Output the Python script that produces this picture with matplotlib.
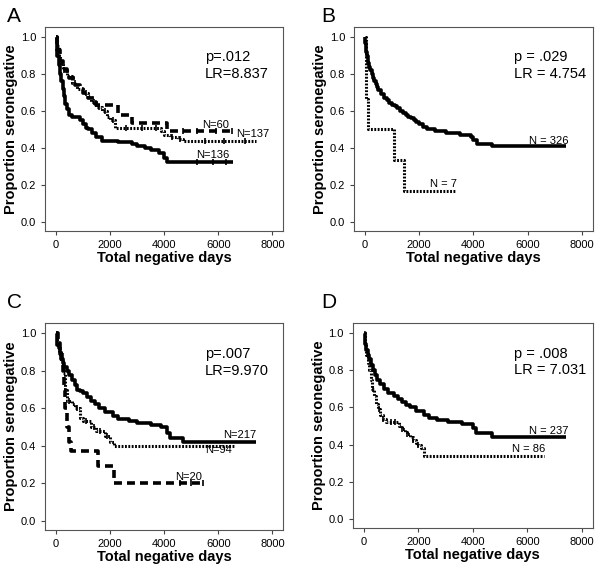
import numpy as np
import matplotlib.pyplot as plt

plt.rcParams['font.family'] = ['Liberation Sans', 'DejaVu Sans']

# ---- data: step times (days) and survival after each step ----
# Panel A
a_solid_t = [0, 30, 60, 100, 150, 200, 250, 300, 350, 420, 500, 600, 900, 1000, 1100, 1200, 1350, 1500, 1700, 2300, 2800, 3000, 3300, 3500, 3800, 4000, 4100]
a_solid_s = [1.0, 0.95, 0.90, 0.85, 0.80, 0.76, 0.72, 0.68, 0.64, 0.61, 0.58, 0.57, 0.55, 0.53, 0.51, 0.50, 0.48, 0.46, 0.44, 0.43, 0.42, 0.41, 0.40, 0.39, 0.37, 0.345, 0.325]
a_solid_end = 6550
a_solid_cens = [5200, 5800, 6300]

a_dot_t = [0, 50, 100, 150, 250, 400, 600, 800, 1000, 1200, 1300, 1500, 1700, 1900, 2000, 2200, 3900, 4000, 4200, 4500, 4700]
a_dot_s = [1.0, 0.95, 0.90, 0.86, 0.82, 0.79, 0.75, 0.72, 0.70, 0.68, 0.65, 0.62, 0.60, 0.57, 0.55, 0.51, 0.49, 0.47, 0.46, 0.45, 0.435]
a_dot_end = 7400
a_dot_cens = [300, 700, 1100, 1400, 1600, 1800, 2100, 2600, 3200, 3700, 4300, 4600, 5500, 6200, 7000]

a_dash_t = [0, 60, 150, 250, 400, 500, 700, 900, 1000, 1200, 1400, 1500, 2300, 2800, 4100]
a_dash_s = [1.0, 0.93, 0.87, 0.83, 0.80, 0.78, 0.74, 0.72, 0.70, 0.67, 0.65, 0.63, 0.58, 0.535, 0.49]
a_dash_end = 6600
a_dash_cens = [4700, 5200, 5900, 6500]

# Panel B
b_solid_t = [0, 20, 40, 60, 80, 100, 130, 160, 200, 250, 300, 350, 400, 450, 500, 600, 700, 800, 900, 1000, 1100, 1200, 1300, 1400, 1500,
             1600, 1700, 1800, 1900, 2000, 2150, 2300, 2600, 3000, 3500, 3900, 4000, 4150, 4700]
b_solid_s = [1.0, 0.97, 0.94, 0.92, 0.90, 0.88, 0.86, 0.84, 0.82, 0.80, 0.78, 0.76, 0.745, 0.73, 0.715, 0.69, 0.67, 0.66, 0.645, 0.635, 0.625, 0.615, 0.60, 0.59, 0.58,
             0.57, 0.56, 0.55, 0.54, 0.53, 0.515, 0.50, 0.49, 0.48, 0.47, 0.46, 0.445, 0.42, 0.41]
b_solid_end = 7400
b_solid_cens = []

b_dot_t = [0, 30, 60, 100, 1060, 1440]
b_dot_s = [1.0, 0.833, 0.667, 0.50, 0.333, 0.167]
b_dot_end = 3350
b_dot_cens = []

# Panel C
c_solid_t = [0, 30, 60, 100, 150, 200, 250, 320, 400, 500, 600, 700, 800, 900, 1000, 1150, 1300, 1450, 1600, 1800, 2100, 2300, 2700, 3000, 3500, 3900, 4100, 4200, 4700]
c_solid_s = [1.0, 0.97, 0.94, 0.92, 0.89, 0.865, 0.84, 0.82, 0.80, 0.775, 0.75, 0.725, 0.70, 0.69, 0.68, 0.66, 0.64, 0.62, 0.60, 0.58, 0.56, 0.54, 0.53, 0.52, 0.51, 0.50, 0.47, 0.44, 0.42]
c_solid_end = 7400
c_solid_cens = []

c_dot_t = [0, 50, 100, 180, 250, 350, 400, 600, 700, 900, 1000, 1300, 1500, 1800, 2000, 2150]
c_dot_s = [1.0, 0.95, 0.90, 0.85, 0.79, 0.70, 0.64, 0.62, 0.60, 0.55, 0.53, 0.50, 0.48, 0.45, 0.42, 0.40]
c_dot_end = 6600
c_dot_cens = [500, 800, 1100, 1400, 1650, 1900]

c_dash_t = [0, 80, 150, 220, 270, 300, 350, 420, 470, 560, 1560, 2150]
c_dash_s = [1.0, 0.95, 0.90, 0.85, 0.80, 0.70, 0.60, 0.50, 0.42, 0.37, 0.29, 0.20]
c_dash_end = 5500
c_dash_cens = [4600, 5000, 5450]

# Panel D
d_solid_t = [0, 30, 60, 100, 150, 200, 270, 350, 420, 500, 600, 750, 900, 1100, 1250, 1400, 1550, 1700, 1900, 2200, 2400, 2700, 3100, 3600, 4000, 4100, 4700]
d_solid_s = [1.0, 0.97, 0.94, 0.91, 0.885, 0.86, 0.83, 0.80, 0.775, 0.75, 0.725, 0.70, 0.68, 0.66, 0.645, 0.63, 0.615, 0.60, 0.58, 0.56, 0.545, 0.53, 0.52, 0.51, 0.49, 0.46, 0.44]
d_solid_end = 7400
d_solid_cens = []

d_dot_t = [0, 50, 100, 150, 200, 250, 300, 370, 450, 520, 600, 700, 800, 1300, 1400, 1500, 1600, 1700, 1800, 1900, 2000, 2100, 2200]
d_dot_s = [1.0, 0.94, 0.88, 0.84, 0.80, 0.75, 0.70, 0.66, 0.62, 0.59, 0.56, 0.54, 0.52, 0.50, 0.485, 0.47, 0.455, 0.44, 0.425, 0.41, 0.395, 0.38, 0.34]
d_dot_end = 6600
d_dot_cens = [350, 550, 700, 1000, 1150, 1400, 1600, 1800, 2000]

SOLID = dict(color='black', lw=2.6, linestyle='-')
DOT = dict(color='black', lw=2.2, linestyle=(0, (0.6, 0.5)))
DASH = dict(color='black', lw=2.6, linestyle=(0, (2.2, 1.4)))


def km(ax, t, s, end, cens, style):
    tt = list(t) + [end]
    ss = list(s) + [s[-1]]
    ax.step(tt, ss, where='post', solid_capstyle='butt', dash_capstyle='butt', **style)
    if cens:
        idx = np.searchsorted(t, cens, side='right') - 1
        ax.plot(cens, np.array(s)[idx], ls='none', marker='|', ms=4, mew=1.2, color='black')


def setup(ax, letter, ptxt, lrtxt, lx, ly):
    ax.set_xlim(-400, 8400)
    ax.set_ylim(-0.05, 1.055)
    ax.set_xticks([0, 2000, 4000, 6000, 8000])
    ax.set_yticks([0.0, 0.2, 0.4, 0.6, 0.8, 1.0])
    ax.set_yticklabels(['0.0', '0.2', '0.4', '0.6', '0.8', '1.0'])
    ax.tick_params(labelsize=8, length=3, width=0.8, color='#444444')
    for sp in ax.spines.values():
        sp.set_color('#555555')
        sp.set_linewidth(0.8)
    ax.set_xlabel('Total negative days', fontsize=10.5, fontweight='bold', labelpad=1)
    ax.set_ylabel('Proportion seronegative', fontsize=10.5, fontweight='bold', labelpad=2)
    ax.text(5500, 0.89, ptxt, fontsize=10.5, va='center')
    ax.text(5500, 0.80, lrtxt, fontsize=10.5, va='center')
    fig.text(lx, ly, letter, fontsize=15, va='top', ha='left')


fig = plt.figure(figsize=(6, 5.71), dpi=100)
axA = fig.add_axes([0.075, 0.5954, 0.397, 0.3573])
axB = fig.add_axes([0.590, 0.5954, 0.398, 0.3573])
axC = fig.add_axes([0.075, 0.0718, 0.397, 0.3625])
axD = fig.add_axes([0.588, 0.0753, 0.400, 0.359])

# A
km(axA, a_solid_t, a_solid_s, a_solid_end, a_solid_cens, SOLID)
km(axA, a_dot_t, a_dot_s, a_dot_end, a_dot_cens, DOT)
km(axA, a_dash_t, a_dash_s, a_dash_end, a_dash_cens, DASH)
axA.text(5400, 0.51, 'N=60', fontsize=8)
axA.text(6650, 0.46, 'N=137', fontsize=8)
axA.text(5200, 0.345, 'N=136', fontsize=8)
setup(axA, 'A', 'p=.012', 'LR=8.837', 0.012, 0.988)

# B
km(axB, b_solid_t, b_solid_s, b_solid_end, b_solid_cens, SOLID)
km(axB, b_dot_t, b_dot_s, b_dot_end, b_dot_cens, DOT)
axB.text(6050, 0.42, 'N = 326', fontsize=8)
axB.text(2400, 0.19, 'N = 7', fontsize=8)
setup(axB, 'B', 'p = .029', 'LR = 4.754', 0.535, 0.988)

# C
km(axC, c_solid_t, c_solid_s, c_solid_end, c_solid_cens, SOLID)
km(axC, c_dot_t, c_dot_s, c_dot_end, c_dot_cens, DOT)
km(axC, c_dash_t, c_dash_s, c_dash_end, c_dash_cens, DASH)
axC.text(6170, 0.44, 'N=217', fontsize=8)
axC.text(5520, 0.36, 'N=94', fontsize=8)
axC.text(4400, 0.215, 'N=20', fontsize=8)
setup(axC, 'C', 'p=.007', 'LR=9.970', 0.012, 0.487)

# D
km(axD, d_solid_t, d_solid_s, d_solid_end, d_solid_cens, SOLID)
km(axD, d_dot_t, d_dot_s, d_dot_end, d_dot_cens, DOT)
axD.text(6050, 0.455, 'N = 237', fontsize=8)
axD.text(5430, 0.36, 'N = 86', fontsize=8)
setup(axD, 'D', 'p = .008', 'LR = 7.031', 0.535, 0.487)

fig.savefig('out.png', dpi=100)
